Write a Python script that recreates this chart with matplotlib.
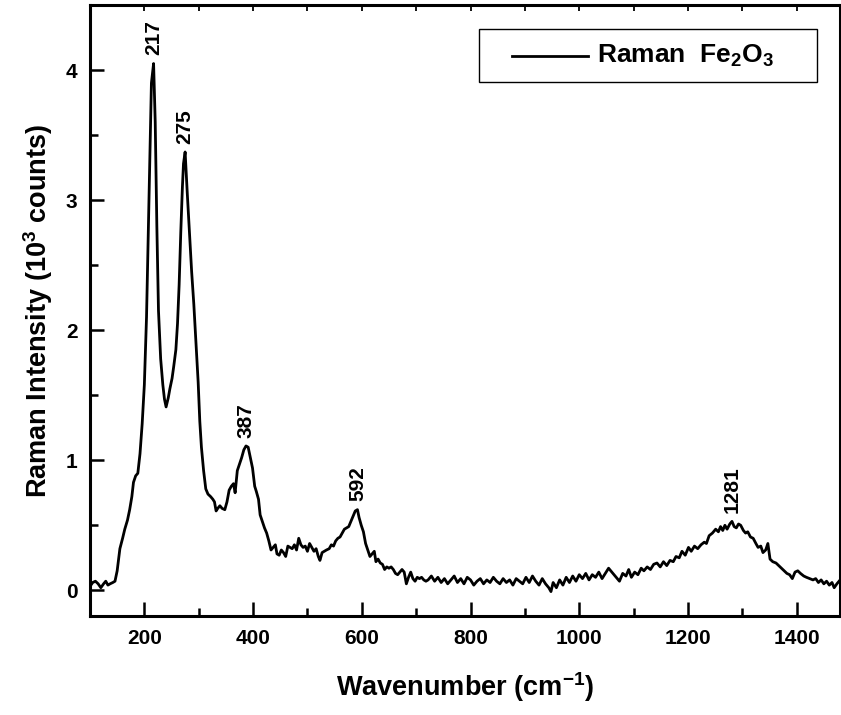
import numpy as np
import matplotlib.pyplot as plt
from matplotlib.ticker import MultipleLocator
from matplotlib.patches import Rectangle

plt.rcParams['font.family'] = ['Liberation Sans', 'DejaVu Sans']
plt.rcParams['font.weight'] = 'bold'
plt.rcParams['mathtext.fontset'] = 'custom'
plt.rcParams['mathtext.rm'] = 'Liberation Sans:bold'
plt.rcParams['mathtext.bf'] = 'Liberation Sans:bold'
plt.rcParams['mathtext.default'] = 'bf'

# Raman spectrum of Fe2O3 (wavenumber in cm-1, intensity in 10^3 counts)
wavenumber = [
    100, 105, 110, 115, 120, 125, 129, 133, 137, 142, 146, 150, 155, 160, 164,
    169, 173, 177, 180, 184, 188, 192, 196, 200, 204, 207, 210, 213, 217, 220,
    223, 226, 230, 234, 237, 240, 244, 247, 251, 254, 258, 261, 264, 267, 270,
    272, 275, 279, 283, 287, 291, 295, 299, 302, 305, 309, 313, 317, 322, 326,
    329, 332, 335, 339, 343, 348, 352, 356, 360, 364, 367, 371, 375, 379, 383,
    387, 391, 395, 399, 403, 406, 410, 413, 417, 421, 425, 429, 433, 437, 441,
    444, 448, 452, 456, 460, 464, 468, 472, 476, 480, 484, 488, 492, 496, 500,
    504, 508, 512, 516, 520, 523, 527, 531, 535, 540, 544, 548, 552, 556, 560,
    564, 568, 572, 576, 580, 584, 588, 592, 595, 599, 603, 607, 611, 615, 619,
    623, 626, 630, 634, 638, 642, 646, 650, 654, 658, 662, 666, 670, 674, 678,
    682, 686, 690, 694, 698, 702, 706, 710, 714, 718, 722, 728, 734, 740, 746,
    752, 758, 764, 770, 776, 782, 788, 794, 800, 806, 812, 818, 824, 830, 836,
    842, 848, 854, 860, 866, 872, 878, 884, 890, 896, 902, 908, 914, 920, 926,
    932, 938, 944, 948, 952, 958, 964, 970, 976, 982, 988, 994, 1000, 1006, 1012,
    1018, 1024, 1030, 1036, 1042, 1048, 1054, 1058, 1064, 1070, 1074, 1080, 1086,
    1091, 1096, 1102, 1108, 1114, 1119, 1125, 1131, 1137, 1143, 1149, 1155, 1161,
    1167, 1173, 1178, 1184, 1189, 1195, 1201, 1206, 1212, 1218, 1224, 1230, 1234,
    1239, 1245, 1251, 1256, 1260, 1264, 1268, 1272, 1277, 1281, 1285, 1289, 1293,
    1297, 1302, 1306, 1310, 1315, 1320, 1325, 1329, 1334, 1338, 1343, 1347, 1351,
    1356, 1362, 1367, 1372, 1377, 1382, 1387, 1392, 1397, 1402, 1407, 1413, 1418,
    1424, 1430, 1435, 1440, 1445, 1450, 1455, 1460, 1465, 1469, 1474, 1480,
]
intensity = [
    0.03, 0.06, 0.07, 0.05, 0.02, 0.05, 0.07, 0.04, 0.05, 0.06, 0.07, 0.15, 0.32, 0.40, 0.47,
    0.54, 0.62, 0.72, 0.83, 0.88, 0.90, 1.05, 1.28, 1.58, 2.10, 2.70, 3.30, 3.90, 4.05, 3.60,
    2.80, 2.15, 1.78, 1.58, 1.47, 1.41, 1.48, 1.55, 1.63, 1.72, 1.85, 2.05, 2.35, 2.75, 3.10,
    3.28, 3.37, 3.05, 2.75, 2.45, 2.20, 1.90, 1.60, 1.30, 1.10, 0.92, 0.78, 0.74, 0.72, 0.70,
    0.68, 0.61, 0.63, 0.65, 0.63, 0.62, 0.68, 0.77, 0.80, 0.82, 0.75, 0.92, 0.97, 1.02, 1.08,
    1.11, 1.10, 1.02, 0.94, 0.80, 0.76, 0.70, 0.58, 0.53, 0.48, 0.44, 0.38, 0.31, 0.33, 0.35,
    0.28, 0.27, 0.31, 0.29, 0.26, 0.34, 0.33, 0.32, 0.35, 0.31, 0.40, 0.35, 0.33, 0.34, 0.30,
    0.36, 0.33, 0.30, 0.32, 0.26, 0.23, 0.29, 0.30, 0.31, 0.32, 0.35, 0.34, 0.38, 0.40, 0.41,
    0.44, 0.47, 0.48, 0.49, 0.53, 0.57, 0.61, 0.62, 0.56, 0.50, 0.45, 0.36, 0.31, 0.26, 0.28,
    0.30, 0.22, 0.24, 0.21, 0.20, 0.16, 0.18, 0.17, 0.18, 0.16, 0.13, 0.12, 0.14, 0.16, 0.14,
    0.05, 0.10, 0.14, 0.09, 0.07, 0.10, 0.09, 0.10, 0.08, 0.07, 0.08, 0.11, 0.07, 0.10, 0.06,
    0.09, 0.05, 0.08, 0.11, 0.06, 0.09, 0.05, 0.10, 0.08, 0.04, 0.07, 0.09, 0.05, 0.08, 0.06,
    0.10, 0.07, 0.05, 0.09, 0.06, 0.08, 0.04, 0.09, 0.07, 0.05, 0.10, 0.06, 0.11, 0.07, 0.04,
    0.09, 0.05, 0.02, -0.01, 0.06, 0.02, 0.08, 0.04, 0.10, 0.06, 0.11, 0.07, 0.12, 0.09, 0.13,
    0.08, 0.12, 0.10, 0.14, 0.09, 0.13, 0.17, 0.15, 0.12, 0.09, 0.07, 0.13, 0.11,
    0.16, 0.10, 0.14, 0.12, 0.17, 0.15, 0.18, 0.16, 0.20, 0.21, 0.18, 0.22, 0.19,
    0.23, 0.22, 0.26, 0.25, 0.30, 0.27, 0.33, 0.30, 0.34, 0.32, 0.35, 0.37, 0.36,
    0.42, 0.44, 0.47, 0.45, 0.49, 0.46, 0.50, 0.47, 0.51, 0.53, 0.49, 0.48, 0.51,
    0.50, 0.46, 0.44, 0.45, 0.41, 0.40, 0.36, 0.33, 0.34, 0.29, 0.31, 0.36, 0.24,
    0.22, 0.21, 0.19, 0.17, 0.15, 0.13, 0.12, 0.09, 0.14, 0.15, 0.13, 0.11, 0.10,
    0.09, 0.08, 0.09, 0.06, 0.08, 0.05, 0.07, 0.04, 0.06, 0.02, 0.05, 0.08,
]

# labelled band positions
peaks = [217, 275, 387, 592, 1281]

fig = plt.figure(figsize=(8.41, 7.15), dpi=100)
ax = fig.add_axes([0.107, 0.138, 0.892, 0.855])

ax.plot(wavenumber, intensity, color='black', lw=2.0)

for p in peaks:
    i = wavenumber.index(p)
    ax.annotate(str(p), xy=(p, intensity[i]), xytext=(0, 6), textcoords='offset points',
                rotation=90, ha='center', va='bottom', fontsize=15, fontweight='bold')

ax.set_xlim(100, 1480)
ax.set_ylim(-0.2, 4.5)
ax.xaxis.set_major_locator(MultipleLocator(200))
ax.xaxis.set_minor_locator(MultipleLocator(100))
ax.yaxis.set_major_locator(MultipleLocator(1))
ax.yaxis.set_minor_locator(MultipleLocator(0.5))
ax.tick_params(which='both', direction='in', width=1.8, labelsize=15, pad=9)
ax.tick_params(which='major', length=10)
ax.tick_params(which='minor', length=5.5)
for s in ax.spines.values():
    s.set_linewidth(2.2)

# small ticks along the top frame
top = ax.secondary_xaxis('top')
top.xaxis.set_major_locator(MultipleLocator(100))
top.tick_params(direction='in', length=4, width=1.3, labeltop=False)

ax.set_xlabel(r'Wavenumber (cm$^{-1}$)', fontsize=19.5, fontweight='bold', labelpad=16)
ax.set_ylabel(r'Raman Intensity (10$^3$ counts)', fontsize=19.5, fontweight='bold', labelpad=8)

# legend box drawn in axes coordinates
ax.add_patch(Rectangle((0.519, 0.874), 0.450, 0.087, transform=ax.transAxes,
                       facecolor='white', edgecolor='black', lw=1.0, zorder=5))
ax.plot([0.563, 0.664], [0.917, 0.917], transform=ax.transAxes, color='black', lw=2.0, zorder=6)
ax.text(0.676, 0.917, r'Raman  Fe$_2$O$_3$', transform=ax.transAxes, fontsize=19,
        fontweight='bold', ha='left', va='center', zorder=6)

fig.savefig('out.png', dpi=100)
